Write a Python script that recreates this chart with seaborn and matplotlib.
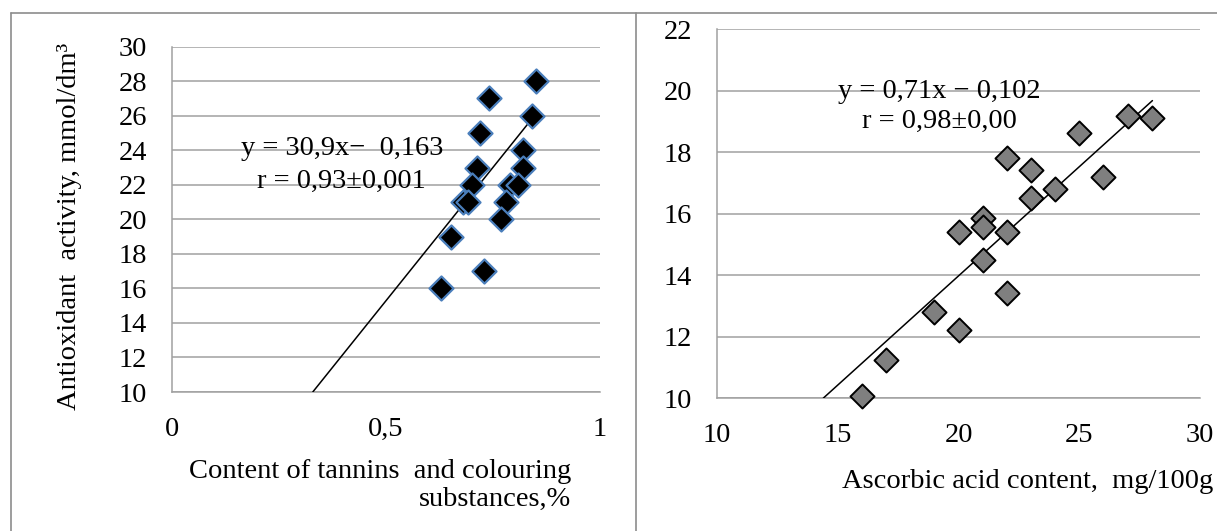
import matplotlib
matplotlib.use("Agg")
import matplotlib.pyplot as plt
import seaborn as sns
import pandas as pd
import numpy as np
from matplotlib.lines import Line2D

# ---------------- data ----------------
tannin_x = [0.85, 0.741, 0.842, 0.72, 0.821, 0.712, 0.821, 0.70, 0.79, 0.809,
            0.681, 0.692, 0.78, 0.769, 0.651, 0.729, 0.628]
tannin_y = [28, 27, 26, 25, 24, 23, 23, 22, 22, 22, 21, 21, 21, 20, 19, 17, 16]

ascorbic_x = [27, 28, 25, 22, 23, 26, 24, 23, 21, 21, 20, 22, 21, 22, 19, 20, 17, 16]
ascorbic_y = [19.19, 19.1, 18.62, 17.8, 17.42, 17.2, 16.81, 16.5, 15.85, 15.58,
              15.42, 15.42, 14.5, 13.43, 12.82, 12.22, 11.25, 10.07]

left_slope, left_intercept = 30.9, -0.163
left_line_x = [0.329, 0.836]
right_slope, right_intercept = 0.71, -0.22
right_line_x = [14.4, 28.03]

left_xticks = [0, 0.5, 1]
left_xticklabels = ["0", "0,5", "1"]
left_yticks = [10, 12, 14, 16, 18, 20, 22, 24, 26, 28, 30]
right_xticks = [10, 15, 20, 25, 30]
right_yticks = [10, 12, 14, 16, 18, 20, 22]

left_eq = "y = 30,9x\u2212  0,163"
left_r = "r = 0,93\u00b10,001"
right_eq = "y = 0,71x \u2212 0,102"
right_r = "r = 0,98\u00b10,00"

left_ylabel = "Antioxidant  activity, mmol/dm\u00b3"
left_xlabel = "Content of tannins  and colouring\nsubstances,%"
right_xlabel = "Ascorbic acid content,  mg/100g"

# ---------------- style ----------------
sns.set_style("white")
plt.rcParams["font.family"] = ["Liberation Serif", "DejaVu Serif"]
plt.rcParams["text.color"] = "black"
plt.rcParams["xtick.color"] = "black"
plt.rcParams["ytick.color"] = "black"
plt.rcParams["xtick.labelcolor"] = "black"
plt.rcParams["ytick.labelcolor"] = "black"
FS = 20.5
GRID = "#A0A0A0"

W, H = 1217, 531
fig = plt.figure(figsize=(W / 100, H / 100), dpi=100)


def px_axes(l, t, r, b):
    return fig.add_axes([l / W, (H - b) / H, (r - l) / W, (b - t) / H])


def style_axes(ax):
    for s in ["top", "right"]:
        ax.spines[s].set_visible(False)
    for s in ["left", "bottom"]:
        ax.spines[s].set_color(GRID)
        ax.spines[s].set_linewidth(1.1)
    ax.yaxis.grid(True, color=GRID, linewidth=1.1)
    ax.xaxis.grid(False)
    ax.set_axisbelow(True)
    ax.tick_params(length=0, labelsize=FS, pad=18, labelcolor="black")


# ---- left panel ----
axL = px_axes(172, 46.7, 600, 392)
dfL = pd.DataFrame({"x": tannin_x, "y": tannin_y})
lx = np.array(left_line_x)
sns.lineplot(x=lx, y=left_slope * lx + left_intercept, ax=axL, color="black",
             linewidth=1.1, zorder=3)
sns.scatterplot(data=dfL, x="x", y="y", ax=axL, marker="D", s=150,
                color="black", edgecolor="#4A7EBB", linewidth=1.6, zorder=4,
                clip_on=False)
axL.set_xlim(0, 1)
axL.set_ylim(10, 30)
axL.set_xticks(left_xticks)
axL.set_xticklabels(left_xticklabels)
axL.set_yticks(left_yticks)
axL.set_xlabel("")
axL.set_ylabel("")
style_axes(axL)
axL.text(0.3965, 24.13, left_eq, ha="center", va="center", fontsize=FS,
         color="black", zorder=5)
axL.text(0.395, 22.18, left_r, ha="center", va="center", fontsize=FS,
         color="black", zorder=5)

# ---- right panel ----
axR = px_axes(717, 29.3, 1200, 398.3)
dfR = pd.DataFrame({"x": ascorbic_x, "y": ascorbic_y})
rx = np.array(right_line_x)
sns.lineplot(x=rx, y=right_slope * rx + right_intercept, ax=axR, color="black",
             linewidth=1.1, zorder=3)
sns.scatterplot(data=dfR, x="x", y="y", ax=axR, marker="D", s=150,
                color="#7F7F7F", edgecolor="black", linewidth=1.4, zorder=4,
                clip_on=False)
axR.set_xlim(10, 30)
axR.set_ylim(10, 22)
axR.set_xticks(right_xticks)
axR.set_xticklabels([str(v) for v in right_xticks])
axR.set_yticks(right_yticks)
axR.set_xlabel("")
axR.set_ylabel("")
style_axes(axR)
axR.text(19.19, 19.97, right_eq, ha="center", va="center", fontsize=FS,
         color="black", zorder=5)
axR.text(19.19, 19.0, right_r, ha="center", va="center", fontsize=FS,
         color="black", zorder=5)

# ---- axis titles (pixel placement) ----
fig.text(70 / W, (H - 226) / H, left_ylabel, rotation=90, ha="center",
         va="center", fontsize=FS, color="black")
fig.text(571 / W, (H - 485) / H, left_xlabel, ha="right", va="center",
         multialignment="right", fontsize=FS, linespacing=1.15, color="black")
fig.text(1213 / W, (H - 482) / H, right_xlabel, ha="right", va="center",
         fontsize=FS, color="black")

# ---- frame lines ----
FRAME = "#8C8C8C"
fig.add_artist(Line2D([11 / W, 11 / W], [0, (H - 12.5) / H], color=FRAME, lw=1.2))
fig.add_artist(Line2D([11 / W, 1], [(H - 12.5) / H, (H - 12.5) / H], color=FRAME, lw=1.2))
fig.add_artist(Line2D([636 / W, 636 / W], [0, (H - 12.5) / H], color=FRAME, lw=1.2))

fig.savefig("out.png", dpi=100)
